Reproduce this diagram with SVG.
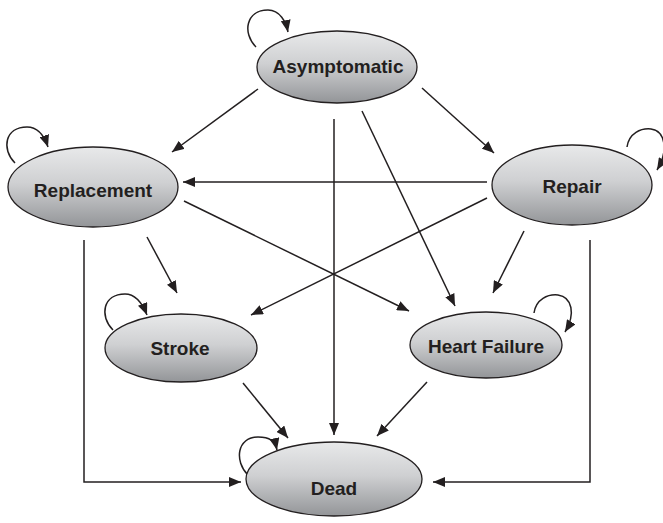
<svg xmlns="http://www.w3.org/2000/svg" width="663" height="523" viewBox="0 0 663 523">
<style>
.node ellipse{fill:url(#g);stroke:#231f20;stroke-width:1.3}
.node text{font-family:"Liberation Sans",Arial,sans-serif;font-weight:bold;font-size:19px;fill:#231f20;text-anchor:middle}
#edges path,#edges line,#edges polyline{fill:none;stroke:#231f20;stroke-width:1.5;marker-end:url(#ah)}
</style>
<defs>
<linearGradient id="g" x1="0" y1="0" x2="0" y2="1">
<stop offset="0" stop-color="#e8e9ea"/>
<stop offset="0.45" stop-color="#cfd0d2"/>
<stop offset="1" stop-color="#939598"/>
</linearGradient>
<marker id="ah" markerUnits="userSpaceOnUse" markerWidth="13" markerHeight="10" refX="12" refY="5" orient="auto">
<path d="M0,0 L12,5 L0,10 z" fill="#231f20"/>
</marker>
</defs>
<g id="edges">
<line x1="258" y1="89" x2="172" y2="152"/>
<line x1="422" y1="88" x2="494" y2="153"/>
<line x1="334" y1="119" x2="334" y2="435"/>
<line x1="362" y1="111" x2="455" y2="306"/>
<line x1="487" y1="182" x2="183" y2="182"/>
<line x1="487" y1="198" x2="251" y2="315"/>
<line x1="184" y1="201" x2="409" y2="311"/>
<line x1="147" y1="237" x2="177" y2="293"/>
<line x1="524" y1="231" x2="493" y2="293"/>
<polyline points="84,240 84,482 241,482"/>
<polyline points="590,240 590,482 433,482"/>
<line x1="243" y1="383" x2="288" y2="438"/>
<line x1="427" y1="382" x2="377" y2="436"/>
<path d="M256,47 C242,33 246,10 268,10 C280,10 286,22 288,32"/>
<path d="M15,163 C1,149 5,127 27,127 C39,127 45,138 48,147"/>
<path d="M113,330 C99,316 103,294 125,294 C137,294 143,305 147,315"/>
<path d="M248,475 C234,461 237,437 258,437 C270,437 275,441 277,450"/>
<path d="M627,147 C629,133 641,128 651,129 C665,131 669,150 657,170"/>
<path d="M534,313 C536,299 548,294 558,295 C572,297 576,314 565,332"/>
</g>
<g id="asymptomatic" class="node"><ellipse cx="337" cy="67" rx="80" ry="36"/><text x="338" y="73">Asymptomatic</text></g>
<g id="replacement" class="node"><ellipse cx="93" cy="187" rx="85" ry="40"/><text x="93" y="197">Replacement</text></g>
<g id="repair" class="node"><ellipse cx="572" cy="185" rx="80" ry="40"/><text x="572" y="193">Repair</text></g>
<g id="stroke" class="node"><ellipse cx="181" cy="348" rx="76" ry="34"/><text x="180" y="355">Stroke</text></g>
<g id="heartfailure" class="node"><ellipse cx="486" cy="345" rx="76" ry="33"/><text x="486" y="353">Heart Failure</text></g>
<g id="dead" class="node"><ellipse cx="334" cy="479" rx="88" ry="37"/><text x="334" y="495">Dead</text></g>
</svg>
